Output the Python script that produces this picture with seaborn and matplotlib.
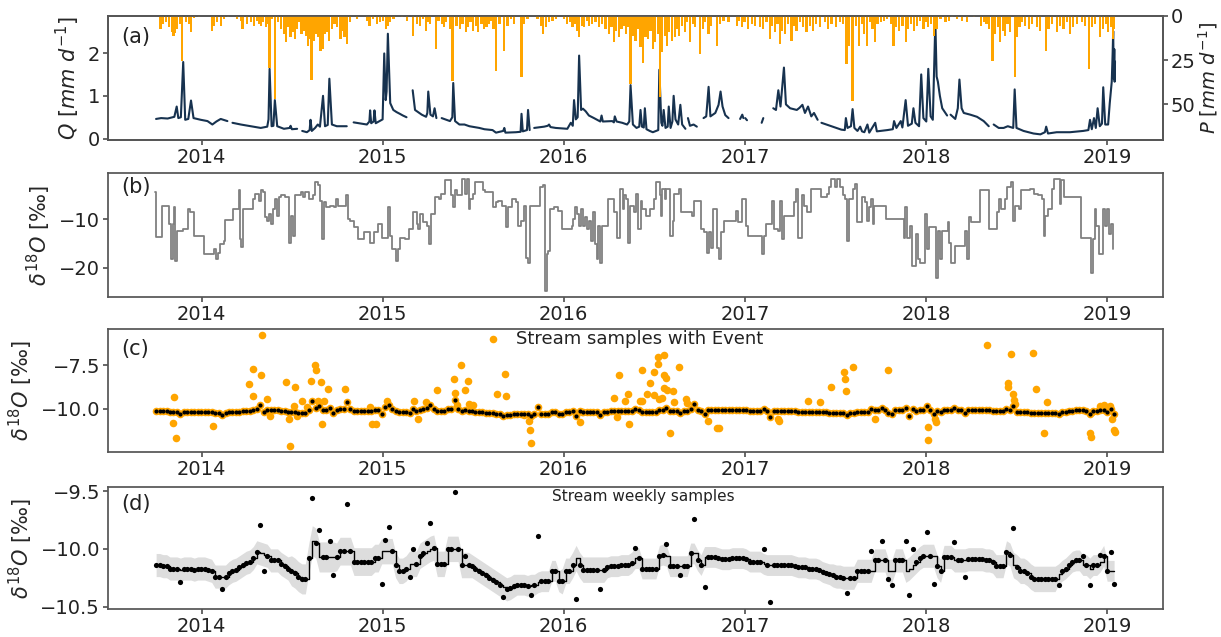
import numpy as np
import pandas as pd
import matplotlib
matplotlib.use("Agg")
import matplotlib.pyplot as plt
import matplotlib.dates as mdates
import seaborn as sns

NAN = np.nan

# ── (a) discharge Q [mm/d] (decimal year, value); NaN marks a data gap ────────
q_year = [2013.747, 2013.775, 2013.811, 2013.848, 2013.861, 2013.870, 2013.884, 2013.897, 2013.908, 2013.925,
          2013.940, 2013.954, 2013.994, 2014.031, 2014.058, 2014.080, 2014.104, 2014.141, 2014.150, 2014.169,
          2014.215, 2014.270, 2014.325, 2014.361, 2014.368, 2014.374, 2014.385, 2014.395, 2014.403, 2014.416,
          2014.453, 2014.485, 2014.490, 2014.497, 2014.526, 2014.540, 2014.554, 2014.580, 2014.595, 2014.600,
          2014.607, 2014.625, 2014.640, 2014.652, 2014.669, 2014.680, 2014.695, 2014.704, 2014.718, 2014.745,
          2014.800, 2014.820, 2014.838, 2014.911, 2014.925, 2014.929, 2014.935, 2014.948, 2014.953, 2014.960,
          2014.998, 2015.007, 2015.015, 2015.020, 2015.027, 2015.040, 2015.057, 2015.075, 2015.093, 2015.110,
          2015.130, 2015.150, 2015.164, 2015.177, 2015.214, 2015.238, 2015.245, 2015.250, 2015.262, 2015.276,
          2015.285, 2015.295, 2015.310, 2015.324, 2015.370, 2015.383, 2015.388, 2015.398, 2015.422, 2015.450,
          2015.477, 2015.532, 2015.560, 2015.605, 2015.624, 2015.664, 2015.670, 2015.676, 2015.734, 2015.760,
          2015.765, 2015.772, 2015.795, 2015.801, 2015.810, 2015.820, 2015.835, 2015.890, 2015.910, 2015.917,
          2015.925, 2015.954, 2016.018, 2016.037, 2016.048, 2016.055, 2016.065, 2016.075, 2016.083, 2016.094,
          2016.104, 2016.119, 2016.137, 2016.165, 2016.200, 2016.207, 2016.214, 2016.266, 2016.275, 2016.280,
          2016.290, 2016.321, 2016.348, 2016.360, 2016.367, 2016.380, 2016.400, 2016.415, 2016.422, 2016.430,
          2016.440, 2016.446, 2016.455, 2016.473, 2016.490, 2016.520, 2016.526, 2016.537, 2016.543, 2016.550,
          2016.560, 2016.572, 2016.578, 2016.588, 2016.598, 2016.605, 2016.615, 2016.630, 2016.642, 2016.652,
          2016.670, 2016.677, 2016.684, 2016.695, 2016.715, 2016.733, 2016.750, 2016.770, 2016.785, 2016.798,
          2016.808, 2016.835, 2016.853, 2016.864, 2016.875, 2016.890, 2016.908, 2016.940, 2016.972, 2016.984,
          2016.990, 2016.995, 2017.000, 2017.010, 2017.050, 2017.091, 2017.100, 2017.120, 2017.155, 2017.170,
          2017.183, 2017.195, 2017.214, 2017.225, 2017.248, 2017.285, 2017.300, 2017.316, 2017.330, 2017.347,
          2017.365, 2017.380, 2017.400, 2017.410, 2017.421, 2017.476, 2017.531, 2017.550, 2017.556, 2017.565,
          2017.584, 2017.593, 2017.603, 2017.620, 2017.635, 2017.645, 2017.658, 2017.675, 2017.685, 2017.718,
          2017.727, 2017.785, 2017.815, 2017.822, 2017.835, 2017.859, 2017.868, 2017.886, 2017.899, 2017.920,
          2017.929, 2017.940, 2017.960, 2017.972, 2017.984, 2018.000, 2018.011, 2018.024, 2018.036, 2018.050,
          2018.057, 2018.064, 2018.075, 2018.088, 2018.115, 2018.125, 2018.134, 2018.160, 2018.174, 2018.183,
          2018.195, 2018.207, 2018.243, 2018.280, 2018.317, 2018.345, 2018.360, 2018.372, 2018.400, 2018.427,
          2018.450, 2018.480, 2018.488, 2018.498, 2018.537, 2018.592, 2018.630, 2018.655, 2018.662, 2018.672,
          2018.720, 2018.793, 2018.866, 2018.895, 2018.904, 2018.914, 2018.926, 2018.936, 2018.946, 2018.958,
          2018.970, 2018.977, 2018.988, 2019.004, 2019.013, 2019.024, 2019.029, 2019.032, 2019.035, 2019.038,
          2019.040, 2019.042]
q_val = [0.46, 0.48, 0.47, 0.51, 0.75, 0.48, 0.50, 1.79, 0.44, 0.46,
         0.89, 0.48, 0.44, 0.41, 0.33, 0.40, 0.46, 0.41, NAN, 0.37,
         0.33, 0.29, 0.25, 0.28, 0.45, 1.63, 0.29, 0.30, 0.90, 0.29,
         0.23, 0.25, 0.30, 0.22, 0.23, NAN, 0.18, 0.15, 0.20, 0.44,
         0.18, 0.25, 0.33, 0.28, 1.00, 0.29, 0.32, 1.40, 0.33, 0.29,
         0.29, NAN, 0.38, 0.33, 0.40, 0.66, 0.36, 0.40, 0.66, 0.36,
         0.45, 1.99, 0.90, 1.10, 2.45, 0.83, 0.67, 0.62, 0.58, 0.54,
         0.50, NAN, 1.13, 0.67, 0.56, 0.51, 0.60, 1.10, 0.56, 0.52,
         0.71, 0.48, NAN, 0.48, 0.41, 0.50, 1.30, 0.41, 0.33, 0.33,
         0.29, 0.25, 0.22, 0.20, 0.14, 0.18, 0.25, 0.14, 0.15, 0.16,
         0.58, 0.17, 0.20, 0.67, 0.20, NAN, 0.25, 0.28, 0.30, 0.33,
         0.27, 0.25, 0.23, 0.37, 0.30, 0.90, 0.45, 0.50, 1.94, 0.67,
         0.70, 0.64, 0.54, 0.48, 0.40, 0.54, 0.40, 0.41, 0.38, 0.52,
         0.40, 0.37, 0.33, 0.40, 1.25, 0.33, 0.25, 0.28, 0.67, 0.28,
         0.26, 0.71, 0.22, 0.18, 0.15, 0.20, 1.61, 0.37, 0.30, 0.67,
         0.25, 0.28, 0.75, 0.25, 0.40, 1.00, 0.45, 0.33, 0.79, 0.33,
         0.23, NAN, 0.48, 0.30, 0.33, 0.28, NAN, 0.48, 0.52, 1.21,
         0.52, 0.60, 0.79, 1.10, 0.75, 0.55, 0.48, NAN, 0.46, 0.56,
         0.48, NAN, 0.48, 0.43, NAN, 0.37, 0.48, NAN, 0.71, 0.67,
         1.13, 0.75, 1.66, 0.80, 0.71, 0.67, 0.72, 0.79, 0.60, 0.75,
         0.52, 0.60, 0.44, NAN, 0.37, 0.29, 0.21, 0.20, 0.48, 0.25,
         0.29, 0.69, 0.25, 0.18, 0.28, 0.17, 0.15, 0.33, 0.14, 0.37,
         0.17, 0.20, 0.22, 0.41, 0.25, 0.41, 0.26, 0.90, 0.30, 0.35,
         0.71, 0.37, 0.29, 1.50, 0.48, 0.40, 1.63, 0.52, 0.44, 2.74,
         1.45, 1.33, 1.00, 0.71, 0.54, NAN, 0.56, 0.46, 0.71, 1.38,
         0.71, 0.60, 0.56, 0.51, 0.41, 0.29, NAN, 0.33, 0.25, 0.25,
         0.29, 0.25, 1.15, 0.25, 0.18, 0.12, 0.10, 0.15, 0.28, 0.12,
         0.15, 0.15, 0.18, 0.20, 0.44, 0.22, 0.48, 0.25, 0.71, 0.29,
         0.35, 1.20, 0.33, 0.33, 0.83, 1.33, 2.00, 2.51, 1.40, 2.09,
         1.33, 1.80]

# ── (a) precipitation P [mm/d] ────────────────────────────────────────────────
p_year = [2013.771, 2013.784, 2013.802, 2013.820, 2013.833, 2013.844, 2013.853, 2013.863, 2013.881, 2013.892,
          2013.912, 2013.927, 2013.940, 2013.958, 2013.985, 2014.004, 2014.055, 2014.068, 2014.083, 2014.105,
          2014.123, 2014.145, 2014.196, 2014.215, 2014.224, 2014.251, 2014.270, 2014.288, 2014.303, 2014.315,
          2014.328, 2014.339, 2014.352, 2014.365, 2014.374, 2014.389, 2014.403, 2014.420, 2014.435, 2014.453,
          2014.466, 2014.477, 2014.490, 2014.502, 2014.513, 2014.526, 2014.539, 2014.550, 2014.563, 2014.576,
          2014.587, 2014.596, 2014.605, 2014.618, 2014.631, 2014.642, 2014.655, 2014.667, 2014.678, 2014.691,
          2014.704, 2014.719, 2014.732, 2014.746, 2014.765, 2014.777, 2014.788, 2014.801, 2014.816, 2014.856,
          2014.911, 2014.926, 2014.944, 2014.966, 2014.985, 2014.999, 2015.018, 2015.025, 2015.040, 2015.058,
          2015.104, 2015.131, 2015.164, 2015.186, 2015.205, 2015.219, 2015.238, 2015.250, 2015.260, 2015.291,
          2015.306, 2015.324, 2015.337, 2015.348, 2015.370, 2015.384, 2015.406, 2015.425, 2015.439, 2015.458,
          2015.470, 2015.483, 2015.498, 2015.513, 2015.526, 2015.544, 2015.557, 2015.571, 2015.586, 2015.599,
          2015.610, 2015.624, 2015.643, 2015.670, 2015.688, 2015.707, 2015.725, 2015.765, 2015.780, 2015.798,
          2015.853, 2015.872, 2015.884, 2015.899, 2015.918, 2015.936, 2015.954, 2016.000, 2016.018, 2016.033,
          2016.046, 2016.061, 2016.073, 2016.083, 2016.097, 2016.110, 2016.125, 2016.138, 2016.156, 2016.174,
          2016.193, 2016.211, 2016.229, 2016.248, 2016.262, 2016.275, 2016.288, 2016.303, 2016.317, 2016.330,
          2016.343, 2016.354, 2016.367, 2016.380, 2016.394, 2016.407, 2016.422, 2016.435, 2016.449, 2016.464,
          2016.477, 2016.490, 2016.504, 2016.519, 2016.528, 2016.541, 2016.556, 2016.568, 2016.581, 2016.596,
          2016.611, 2016.623, 2016.636, 2016.651, 2016.666, 2016.678, 2016.697, 2016.710, 2016.724, 2016.752,
          2016.765, 2016.779, 2016.798, 2016.812, 2016.843, 2016.862, 2016.880, 2016.908, 2016.953, 2016.966,
          2016.981, 2016.996, 2017.014, 2017.036, 2017.054, 2017.082, 2017.100, 2017.118, 2017.137, 2017.150,
          2017.164, 2017.179, 2017.192, 2017.205, 2017.219, 2017.238, 2017.256, 2017.271, 2017.283, 2017.302,
          2017.320, 2017.338, 2017.357, 2017.375, 2017.393, 2017.412, 2017.439, 2017.458, 2017.476, 2017.503,
          2017.522, 2017.540, 2017.559, 2017.575, 2017.593, 2017.611, 2017.630, 2017.643, 2017.657, 2017.672,
          2017.690, 2017.703, 2017.716, 2017.730, 2017.749, 2017.767, 2017.782, 2017.804, 2017.819, 2017.831,
          2017.850, 2017.868, 2017.886, 2017.899, 2017.914, 2017.932, 2017.947, 2017.965, 2017.984, 2017.996,
          2018.009, 2018.024, 2018.042, 2018.057, 2018.079, 2018.106, 2018.125, 2018.143, 2018.171, 2018.198,
          2018.226, 2018.262, 2018.303, 2018.317, 2018.332, 2018.345, 2018.365, 2018.381, 2018.394, 2018.409,
          2018.422, 2018.436, 2018.449, 2018.464, 2018.488, 2018.501, 2018.515, 2018.528, 2018.546, 2018.565,
          2018.583, 2018.611, 2018.629, 2018.662, 2018.675, 2018.693, 2018.721, 2018.739, 2018.757, 2018.776,
          2018.794, 2018.812, 2018.831, 2018.858, 2018.876, 2018.900, 2018.913, 2018.931, 2018.959, 2018.977,
          2018.992, 2019.005, 2019.018, 2019.029, 2019.038]
p_mm = [7.5, 4.7, 3.8, 6.6, 9.4, 11.7, 9.8, 7.5, 4.7, 25.4,
        3.8, 4.7, 9.4, 1.5, 1.0, 0.4, 8.5, 5.6, 3.8, 5.6,
        1.9, 1.0, 1.9, 2.8, 7.5, 4.7, 3.8, 5.6, 2.8, 4.7,
        5.6, 3.4, 6.6, 4.7, 29.2, 1.9, 47.0, 3.8, 7.5, 10.4,
        15.1, 6.6, 12.2, 9.4, 13.2, 7.5, 3.8, 10.4, 8.5, 11.3,
        17.0, 13.2, 36.3, 14.1, 10.4, 12.2, 19.8, 18.8, 10.4, 9.4,
        14.1, 7.5, 4.7, 6.6, 13.2, 8.5, 12.2, 16.0, 3.8, 1.9,
        2.8, 5.6, 1.9, 4.7, 3.8, 2.8, 7.5, 5.6, 3.8, 1.9,
        1.0, 2.8, 11.3, 4.7, 5.6, 1.9, 8.5, 3.8, 4.7, 18.8,
        2.8, 4.7, 6.6, 3.8, 7.5, 36.7, 5.6, 7.5, 4.7, 9.4,
        6.6, 3.8, 8.5, 5.6, 9.4, 4.7, 7.5, 6.6, 4.7, 2.8,
        7.5, 31.1, 4.7, 19.8, 5.6, 1.9, 4.7, 34.8, 4.7, 1.9,
        1.9, 5.6, 10.4, 6.6, 3.8, 2.8, 1.9, 1.9, 4.7, 3.8,
        6.6, 4.7, 8.5, 12.2, 5.6, 6.6, 2.8, 5.6, 4.7, 3.8,
        6.6, 4.7, 7.5, 10.4, 6.6, 15.1, 8.5, 12.2, 7.5, 5.6,
        10.4, 6.6, 38.6, 11.3, 14.1, 7.5, 17.9, 26.4, 12.2, 13.2,
        8.5, 18.8, 15.1, 10.4, 46.0, 20.7, 11.3, 17.0, 9.4, 14.1,
        12.2, 7.5, 11.3, 5.6, 9.4, 3.8, 15.1, 4.7, 6.6, 21.7,
        7.5, 3.8, 10.4, 5.6, 17.0, 4.7, 2.8, 3.8, 5.6, 2.8,
        6.6, 3.8, 7.5, 4.7, 5.6, 6.6, 7.5, 3.8, 13.2, 5.6,
        9.4, 4.7, 16.0, 8.5, 10.4, 4.7, 14.1, 5.6, 8.5, 3.8,
        6.6, 9.4, 5.6, 8.5, 4.7, 6.6, 3.8, 7.5, 4.7, 6.6,
        3.8, 4.7, 27.3, 17.0, 48.0, 5.6, 17.0, 4.7, 10.4, 17.0,
        3.8, 7.5, 15.1, 4.7, 3.8, 2.8, 1.9, 4.7, 17.0, 6.6,
        8.5, 5.6, 15.1, 7.5, 4.7, 8.5, 5.6, 2.8, 7.5, 3.8,
        6.6, 4.7, 11.3, 7.5, 1.9, 3.8, 2.8, 1.0, 1.9, 2.8,
        3.8, 1.0, 5.6, 3.8, 4.7, 7.5, 25.4, 10.4, 6.6, 15.1,
        8.5, 11.3, 4.7, 9.4, 34.8, 12.2, 6.6, 3.8, 5.6, 7.5,
        4.7, 6.6, 8.5, 19.8, 7.5, 4.7, 9.4, 5.6, 7.5, 3.8,
        10.4, 6.6, 4.7, 3.8, 5.6, 30.1, 6.6, 4.7, 12.2, 7.5,
        4.7, 9.4, 6.6, 13.2, 7.5]

# ── (b) precipitation d18O [permil], step series (start of each value) ──────
b_year = [2013.742, 2013.745, 2013.781, 2013.821, 2013.829, 2013.838, 2013.847, 2013.853, 2013.862, 2013.895,
          2013.923, 2013.934, 2013.956, 2014.011, 2014.065, 2014.076, 2014.087, 2014.098, 2014.120, 2014.126,
          2014.174, 2014.203, 2014.209, 2014.218, 2014.225, 2014.284, 2014.295, 2014.317, 2014.327, 2014.338,
          2014.349, 2014.360, 2014.371, 2014.382, 2014.393, 2014.404, 2014.415, 2014.425, 2014.436, 2014.458,
          2014.480, 2014.491, 2014.502, 2014.513, 2014.546, 2014.557, 2014.568, 2014.589, 2014.611, 2014.627,
          2014.640, 2014.651, 2014.662, 2014.672, 2014.688, 2014.709, 2014.731, 2014.742, 2014.753, 2014.797,
          2014.808, 2014.818, 2014.840, 2014.862, 2014.895, 2014.928, 2014.950, 2014.971, 2014.993, 2015.026,
          2015.037, 2015.048, 2015.070, 2015.081, 2015.096, 2015.124, 2015.146, 2015.168, 2015.190, 2015.196,
          2015.205, 2015.222, 2015.244, 2015.255, 2015.266, 2015.288, 2015.310, 2015.320, 2015.342, 2015.375,
          2015.386, 2015.397, 2015.408, 2015.434, 2015.452, 2015.463, 2015.474, 2015.480, 2015.495, 2015.506,
          2015.550, 2015.561, 2015.605, 2015.626, 2015.637, 2015.659, 2015.681, 2015.692, 2015.714, 2015.735,
          2015.746, 2015.764, 2015.779, 2015.790, 2015.801, 2015.812, 2015.866, 2015.882, 2015.893, 2015.904,
          2015.910, 2015.921, 2015.943, 2015.965, 2015.987, 2016.041, 2016.052, 2016.063, 2016.074, 2016.085,
          2016.096, 2016.107, 2016.118, 2016.129, 2016.140, 2016.150, 2016.161, 2016.172, 2016.183, 2016.190,
          2016.200, 2016.211, 2016.244, 2016.277, 2016.294, 2016.309, 2016.325, 2016.331, 2016.342, 2016.353,
          2016.364, 2016.386, 2016.396, 2016.407, 2016.425, 2016.433, 2016.451, 2016.473, 2016.494, 2016.505,
          2016.527, 2016.534, 2016.542, 2016.556, 2016.564, 2016.586, 2016.599, 2016.608, 2016.636, 2016.647,
          2016.708, 2016.717, 2016.756, 2016.773, 2016.789, 2016.800, 2016.810, 2016.821, 2016.843, 2016.854,
          2016.865, 2016.882, 2016.952, 2016.963, 2016.985, 2017.006, 2017.017, 2017.094, 2017.104, 2017.115,
          2017.148, 2017.159, 2017.181, 2017.192, 2017.202, 2017.213, 2017.268, 2017.279, 2017.290, 2017.312,
          2017.322, 2017.344, 2017.366, 2017.420, 2017.453, 2017.464, 2017.475, 2017.497, 2017.508, 2017.523,
          2017.540, 2017.551, 2017.562, 2017.573, 2017.595, 2017.606, 2017.617, 2017.645, 2017.660, 2017.671,
          2017.682, 2017.693, 2017.704, 2017.714, 2017.780, 2017.878, 2017.884, 2017.893, 2017.911, 2017.921,
          2017.943, 2017.954, 2017.965, 2017.993, 2018.002, 2018.015, 2018.052, 2018.063, 2018.074, 2018.085,
          2018.118, 2018.124, 2018.135, 2018.161, 2018.216, 2018.226, 2018.237, 2018.248, 2018.298, 2018.346,
          2018.390, 2018.401, 2018.412, 2018.433, 2018.444, 2018.466, 2018.477, 2018.488, 2018.510, 2018.521,
          2018.575, 2018.597, 2018.619, 2018.640, 2018.651, 2018.658, 2018.673, 2018.695, 2018.706, 2018.738,
          2018.745, 2018.760, 2018.852, 2018.908, 2018.919, 2018.930, 2018.939, 2018.952, 2018.974, 2018.989,
          2019.000, 2019.011, 2019.022, 2019.033]
b_val = [-4.48, -13.59, -7.24, -11.03, -18.28, -11.03, -7.59, -18.62, -12.41, -12.07,
         -7.93, -8.62, -13.45, -17.10, -16.21, -18.28, -16.90, -15.17, -14.48, -10.21,
         -7.93, -4.14, -14.14, -15.66, -7.93, -5.86, -4.83, -6.21, -4.14, -4.48,
         -9.66, -10.34, -8.97, -11.03, -7.93, -5.86, -9.31, -5.52, -5.17, -5.52,
         -14.83, -9.31, -13.45, -5.17, -4.48, -5.52, -4.48, -5.86, -5.17, -2.41,
         -3.10, -6.21, -14.14, -6.55, -7.59, -7.24, -7.59, -5.86, -7.24, -5.17,
         -10.00, -10.34, -11.72, -14.14, -12.76, -14.83, -12.76, -11.03, -13.79, -7.59,
         -13.45, -16.21, -18.62, -16.21, -13.79, -14.14, -12.07, -8.62, -11.03, -12.07,
         -8.97, -10.69, -11.38, -15.17, -8.97, -5.52, -5.86, -4.83, -2.07, -5.17,
         -7.59, -4.14, -5.17, -1.72, -4.83, -1.72, -7.93, -5.86, -4.83, -2.41,
         -4.14, -4.48, -7.59, -6.55, -6.21, -7.24, -11.72, -7.59, -5.86, -6.55,
         -11.38, -10.34, -7.24, -17.93, -18.97, -7.24, -3.45, -3.10, -24.83, -17.24,
         -16.55, -7.93, -7.59, -8.28, -12.07, -11.38, -10.00, -7.59, -8.97, -11.38,
         -7.93, -11.38, -9.66, -12.07, -10.34, -14.48, -8.62, -15.17, -18.28, -11.38,
         -18.97, -11.38, -5.86, -8.62, -13.79, -3.79, -7.93, -5.17, -5.86, -14.83,
         -7.24, -8.62, -4.83, -12.07, -6.21, -7.93, -9.31, -7.93, -5.86, -2.41,
         -5.17, -9.31, -3.79, -5.86, -3.79, -13.45, -10.34, -4.83, -3.79, -8.62,
         -9.31, -6.21, -12.07, -12.76, -16.90, -12.76, -15.86, -7.93, -15.86, -18.28,
         -12.76, -10.34, -8.28, -10.69, -5.86, -11.38, -13.45, -17.24, -13.45, -11.03,
         -6.21, -12.07, -12.41, -6.21, -14.14, -9.31, -6.55, -3.79, -13.79, -5.17,
         -7.24, -8.62, -3.79, -5.52, -4.83, -3.45, -1.72, -3.45, -1.72, -3.45,
         -5.17, -5.86, -14.48, -5.86, -3.79, -2.76, -10.69, -5.52, -6.55, -10.34,
         -7.59, -5.86, -11.03, -7.24, -10.00, -13.79, -7.59, -13.79, -11.38, -19.66,
         -13.10, -18.28, -18.97, -8.97, -16.21, -11.72, -22.07, -12.41, -18.28, -12.41,
         -10.69, -14.83, -18.97, -15.52, -12.41, -18.28, -9.66, -10.69, -4.14, -12.07,
         -8.62, -5.86, -7.93, -5.86, -3.45, -2.41, -10.34, -7.24, -7.93, -4.14,
         -3.79, -4.83, -5.17, -5.86, -13.45, -9.31, -7.93, -3.79, -1.72, -6.90,
         -2.07, -5.52, -13.79, -21.03, -14.14, -7.93, -11.38, -17.24, -7.93, -11.38,
         -7.93, -13.10, -11.00, -16.21]

# ── (c) stream samples taken during events (decimal year, d18O) ───────────────
ev_year = [2013.840, 2013.845, 2013.856, 2014.059, 2014.260, 2014.280, 2014.282, 2014.325, 2014.334, 2014.360,
           2014.375, 2014.467, 2014.480, 2014.488, 2014.506, 2014.517, 2014.528, 2014.554, 2014.578, 2014.600,
           2014.626, 2014.632, 2014.643, 2014.659, 2014.665, 2014.674, 2014.696, 2014.792, 2014.931, 2014.938,
           2014.964, 2015.023, 2015.171, 2015.193, 2015.237, 2015.296, 2015.394, 2015.400, 2015.410, 2015.433,
           2015.455, 2015.470, 2015.477, 2015.498, 2015.607, 2015.629, 2015.673, 2015.677, 2015.778, 2015.804,
           2015.810, 2015.815, 2016.090, 2016.100, 2016.277, 2016.290, 2016.303, 2016.336, 2016.353, 2016.357,
           2016.418, 2016.429, 2016.433, 2016.460, 2016.477, 2016.495, 2016.499, 2016.516, 2016.521, 2016.525,
           2016.538, 2016.549, 2016.553, 2016.564, 2016.549, 2016.567, 2016.586, 2016.600, 2016.608, 2016.636,
           2016.673, 2016.677, 2016.797, 2016.843, 2016.858, 2017.179, 2017.185, 2017.349, 2017.414, 2017.473,
           2017.545, 2017.549, 2017.556, 2017.595, 2017.715, 2017.789, 2018.009, 2018.011, 2018.046, 2018.052,
           2018.335, 2018.449, 2018.453, 2018.470, 2018.481, 2018.486, 2018.492, 2018.590, 2018.606, 2018.651,
           2018.667, 2018.906, 2018.908, 2018.917, 2018.961, 2018.983, 2019.015, 2019.026, 2019.037, 2019.044]
ev_val = [-10.79, -9.34, -11.69, -10.98, -8.59, -7.71, -9.25, -8.06, -5.75, -9.47,
          -10.41, -8.46, -10.60, -12.16, -9.85, -8.78, -10.41, -9.53, -9.91, -8.40,
          -7.50, -7.78, -9.53, -8.44, -10.90, -9.53, -8.85, -8.85, -9.91, -10.90,
          -10.90, -9.53, -9.53, -10.56, -9.62, -8.91, -8.31, -9.10, -9.77, -7.52,
          -8.91, -8.40, -9.72, -9.81, -6.00, -9.15, -8.03, -9.25, -10.38, -10.71,
          -11.22, -11.97, -10.75, -10.19, -9.38, -10.49, -8.06, -9.53, -9.15, -10.85,
          -9.53, -7.78, -9.57, -9.15, -8.50, -7.88, -9.21, -7.03, -7.42, -9.44,
          -9.40, -6.90, -8.08, -8.21, -8.82, -8.91, -11.41, -9.00, -9.59, -7.61,
          -9.44, -9.66, -10.71, -11.09, -11.09, -10.56, -10.71, -9.53, -9.62, -8.78,
          -7.88, -8.27, -8.97, -7.59, -10.56, -7.80, -11.03, -11.79, -10.56, -10.75,
          -6.33, -8.55, -8.78, -6.84, -9.15, -9.49, -9.72, -6.80, -8.87, -11.41,
          -9.59, -11.41, -11.60, -10.19, -9.85, -9.77, -9.85, -10.56, -11.22, -11.35]

# ── (d) weekly stream samples: smoothed step line, 13 weeks per row, from 2013-10-01
wk_line = [
    -10.14, -10.14, -10.15, -10.15, -10.17, -10.17, -10.17, -10.18, -10.17, -10.17, -10.17, -10.18, -10.17,
    -10.17, -10.17, -10.18, -10.19, -10.24, -10.24, -10.24, -10.24, -10.21, -10.19, -10.18, -10.16, -10.14,
    -10.12, -10.11, -10.08, -10.03, -10.04, -10.05, -10.06, -10.10, -10.10, -10.10, -10.13, -10.15, -10.17,
    -10.19, -10.21, -10.24, -10.26, -10.26, -10.08, -9.93, -9.95, -10.07, -10.07, -10.07, -10.07, -10.07,
    -10.07, -10.02, -10.02, -10.02, -10.02, -10.11, -10.11, -10.11, -10.11, -10.11, -10.11, -10.08, -10.08,
    -10.02, -10.02, -10.02, -10.02, -10.14, -10.19, -10.19, -10.17, -10.13, -10.13, -10.13, -10.06, -10.04,
    -10.02, -10.00, -9.99, -10.13, -10.13, -10.13, -10.00, -10.00, -10.00, -10.00, -10.14, -10.14, -10.14,
    -10.15, -10.17, -10.19, -10.21, -10.23, -10.25, -10.27, -10.29, -10.31, -10.33, -10.35, -10.34, -10.32,
    -10.31, -10.31, -10.31, -10.32, -10.31, -10.31, -10.29, -10.28, -10.28, -10.28, -10.19, -10.19, -10.28,
    -10.28, -10.19, -10.19, -10.14, -10.08, -10.14, -10.18, -10.18, -10.18, -10.18, -10.18, -10.18, -10.18,
    -10.16, -10.15, -10.15, -10.15, -10.14, -10.14, -10.14, -10.12, -10.08, -10.08, -10.17, -10.17, -10.17,
    -10.17, -10.17, -10.06, -10.05, -10.06, -10.15, -10.15, -10.15, -10.15, -10.15, -10.15, -10.04, -10.04,
    -10.10, -10.14, -10.07, -10.07, -10.07, -10.07, -10.08, -10.09, -10.09, -10.09, -10.08, -10.08, -10.08,
    -10.08, -10.09, -10.11, -10.11, -10.11, -10.11, -10.13, -10.14, -10.14, -10.14, -10.14, -10.14, -10.14,
    -10.14, -10.14, -10.15, -10.16, -10.16, -10.16, -10.17, -10.17, -10.17, -10.18, -10.20, -10.21, -10.22,
    -10.23, -10.24, -10.24, -10.25, -10.25, -10.25, -10.25, -10.19, -10.19, -10.19, -10.19, -10.19, -10.10,
    -10.10, -10.10, -10.10, -10.19, -10.19, -10.10, -10.10, -10.10, -10.19, -10.17, -10.14, -10.11, -10.08,
    -10.06, -10.06, -10.06, -10.06, -10.15, -10.19, -10.07, -10.07, -10.07, -10.10, -10.10, -10.10, -10.10,
    -10.09, -10.09, -10.09, -10.09, -10.09, -10.10, -10.10, -10.11, -10.15, -10.15, -10.15, -10.03, -10.05,
    -10.14, -10.16, -10.19, -10.19, -10.21, -10.24, -10.26, -10.26, -10.26, -10.26, -10.26, -10.26, -10.26,
    -10.22, -10.19, -10.17, -10.14, -10.11, -10.10, -10.10, -10.14, -10.14, -10.17, -10.14, -10.14, -10.11,
    -10.06, -10.19, -10.19, -10.19]
# samples that sit away from the smoothed line (week index, d18O)
out_idx = [7, 19, 30, 31, 45, 47, 50, 51, 55, 65, 66, 67, 73, 74, 78, 79, 86, 89, 100, 108,
           110, 121, 128, 138, 147, 151, 155, 158, 175, 177, 199, 206, 209, 211, 212, 216, 217, 218, 222, 224,
           230, 233, 247, 260, 267, 269, 272, 275, 276]
out_val = [-10.29, -10.35, -9.79, -10.19, -9.56, -9.84, -9.93, -10.23, -9.61, -10.30,
           -9.92, -9.81, -10.24, -10.00, -9.95, -9.78, -9.51, -10.06, -10.42, -10.40,
           -9.89, -10.43, -10.35, -9.99, -9.96, -10.23, -9.74, -10.33, -10.00, -10.46,
           -10.38, -10.02, -9.93, -10.26, -10.31, -9.93, -10.40, -10.00, -9.85, -10.30,
           -9.94, -10.24, -9.82, -10.31, -10.06, -10.31, -10.05, -10.03, -10.30]
# half-width of the grey uncertainty band, one value per quarter row
band_hw_q = [0.10, 0.10, 0.10, 0.13, 0.12, 0.11, 0.11, 0.10, 0.09, 0.11, 0.09,
             0.09, 0.09, 0.09, 0.09, 0.10, 0.10, 0.10, 0.10, 0.11, 0.09, 0.09]

NAVY = "#17324f"
ORANGE = "#ffa500"
SPINE = "#555555"
INK = "#222222"


def to_dt(years):
    y = np.asarray(years, dtype=float)
    return pd.to_datetime("2013-01-01") + pd.to_timedelta((y - 2013.0) * 365.25, unit="D")


sns.set_theme(style="ticks")
plt.rcParams["font.family"] = ["DejaVu Sans"]
plt.rcParams["mathtext.fontset"] = "dejavusans"
plt.rcParams["axes.edgecolor"] = SPINE
plt.rcParams["xtick.color"] = SPINE
plt.rcParams["ytick.color"] = SPINE
plt.rcParams["xtick.labelcolor"] = INK
plt.rcParams["ytick.labelcolor"] = INK

fig = plt.figure(figsize=(12.21, 6.37), dpi=100)
L, W = 0.0882, 0.8640
axA = fig.add_axes([L, 0.7802, W, 0.1952])
axB = fig.add_axes([L, 0.5338, W, 0.1946])
axC = fig.add_axes([L, 0.2904, W, 0.1931])
axD = fig.add_axes([L, 0.0440, W, 0.1915])
xlim = to_dt([2013.48, 2019.305])
ylab = r"$\delta^{18}O$ [‰]"

# ── (a) ──────────────────────────────────────────────────────────────────────
qdf = pd.DataFrame({"t": to_dt(q_year), "q": q_val})
qdf["seg"] = qdf["q"].isna().cumsum()
qdf = qdf.dropna()
sns.lineplot(data=qdf, x="t", y="q", units="seg", estimator=None, color=NAVY, lw=1.5, ax=axA)
axA.set_ylabel(r"$Q$ [$mm$ $d^{-1}$]", fontsize=15, labelpad=4)
axA.set_yticks([0, 1, 2])
axP = axA.twinx()
axP.bar(to_dt(p_year), p_mm, width=4.5, color=ORANGE, linewidth=0)
axP.set_ylim(70, 0)
axP.set_yticks([0, 25, 50])
axP.set_ylabel(r"$P$ [$mm$ $d^{-1}$]", fontsize=14, labelpad=1)
axP.tick_params(labelsize=14, length=3.5, pad=2)
for s in axP.spines.values():
    s.set_color(SPINE)

# ── (b) ──────────────────────────────────────────────────────────────────────
sns.lineplot(x=to_dt(b_year), y=b_val, estimator=None, drawstyle="steps-post",
             color="#808080", lw=1.3, ax=axB)
axB.set_yticks([-20, -10])
axB.set_ylabel(ylab, fontsize=15)

# ── (c) ──────────────────────────────────────────────────────────────────────
wk_t = pd.date_range("2013-10-01", periods=len(wk_line), freq="7D")
wk_dots = np.array(wk_line)
wk_dots[out_idx] = out_val
ev_t = to_dt(ev_year)
c_t = np.concatenate([wk_t.values, ev_t.values])
c_v = np.concatenate([wk_dots, ev_val])
sns.scatterplot(x=c_t, y=c_v, color=ORANGE, s=30, linewidth=0, ax=axC)
sns.scatterplot(x=wk_t, y=wk_dots, color="black", s=9, linewidth=0, ax=axC)
axC.set_yticks([-10.0, -7.5])
axC.set_yticklabels(["\u221210.0", "\u22127.5"])
axC.set_ylabel(ylab, fontsize=15)
axC.text(0.504, 0.995, "Stream samples with Event", transform=axC.transAxes,
         ha="center", va="top", fontsize=13, color=INK)

# ── (d) ──────────────────────────────────────────────────────────────────────
hw = np.repeat(band_hw_q, 13)[:len(wk_line)]
axD.fill_between(wk_t, np.array(wk_line) - hw, np.array(wk_line) + hw,
                 color="#dddddd", linewidth=0)
sns.lineplot(x=wk_t, y=wk_line, estimator=None, drawstyle="steps-post",
             color="black", lw=1.0, ax=axD)
sns.scatterplot(x=wk_t, y=wk_dots, color="black", s=14, linewidth=0, ax=axD)
axD.set_yticks([-10.5, -10.0, -9.5])
axD.set_yticklabels(["\u221210.5", "\u221210.0", "\u22129.5"])
axD.set_ylim(-10.52, -9.465)
axD.set_ylabel(ylab, fontsize=15)
axD.text(0.508, 0.985, "Stream weekly samples", transform=axD.transAxes,
         ha="center", va="top", fontsize=11, color=INK)

for ax, tag, ty in zip([axA, axB, axC, axD], ["(a)", "(b)", "(c)", "(d)"],
                       [0.83, 0.885, 0.84, 0.86]):
    ax.set_xlim(xlim)
    ax.xaxis.set_major_locator(mdates.YearLocator())
    ax.xaxis.set_major_formatter(mdates.DateFormatter("%Y"))
    ax.tick_params(labelsize=14, length=3.5, pad=2)
    ax.set_xlabel("")
    ax.text(0.013, ty, tag, transform=ax.transAxes, ha="left", va="center",
            fontsize=15, color=INK)

fig.savefig("out.png", dpi=100)
